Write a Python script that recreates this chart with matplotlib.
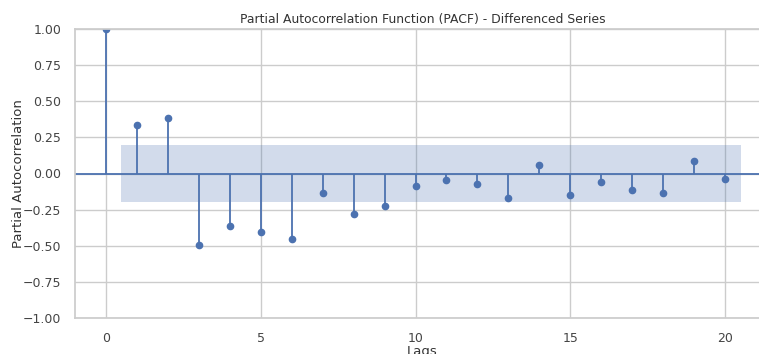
import numpy as np
import seaborn as sns
import matplotlib
matplotlib.use('Agg')
import matplotlib.pyplot as plt

lags = list(range(21))
pacf_vals = [1.0, 0.336, 0.382, -0.495, -0.366, -0.407, -0.453, -0.133, -0.283, -0.225,
             -0.084, -0.047, -0.073, -0.167, 0.061, -0.147, -0.059, -0.112, -0.133, 0.087,
             -0.038]
conf_lags = [0.5, 20.5]
conf_low = [-0.2, -0.2]
conf_high = [0.2, 0.2]

sns.set_theme(style='whitegrid')
color = '#4C72B0'

fig = plt.figure(figsize=(7.59, 3.54), dpi=100)
# axes run past the right edge (reference is cropped there)
ax = fig.add_axes([75 / 759, 36 / 354, 695 / 759, 289 / 354])

ax.vlines(lags, 0, pacf_vals, color=color, linewidth=1.3)
ax.plot(lags, pacf_vals, 'o', color=color, markersize=4.5)
ax.axhline(0, color=color, linewidth=1.3)
ax.fill_between(conf_lags, conf_low, conf_high, color=color, alpha=0.25, linewidth=0)

ax.set_xlim(-1, 21.45)
ax.set_ylim(-1, 1)
ax.set_yticks(np.arange(-1, 1.01, 0.25))
ax.set_xticks([0, 5, 10, 15, 20])
ax.tick_params(labelsize=9, colors='#444444', pad=4)
ax.set_title('Partial Autocorrelation Function (PACF) - Differenced Series', fontsize=8.9,
             color='#333333', pad=4)
ax.set_xlabel('Lags', fontsize=9.5, color='#333333', labelpad=0)
ax.set_ylabel('Partial Autocorrelation', fontsize=9.5, color='#333333')
ax.yaxis.set_label_coords(-0.072, 0.5)

fig.savefig('out.png', dpi=100)
